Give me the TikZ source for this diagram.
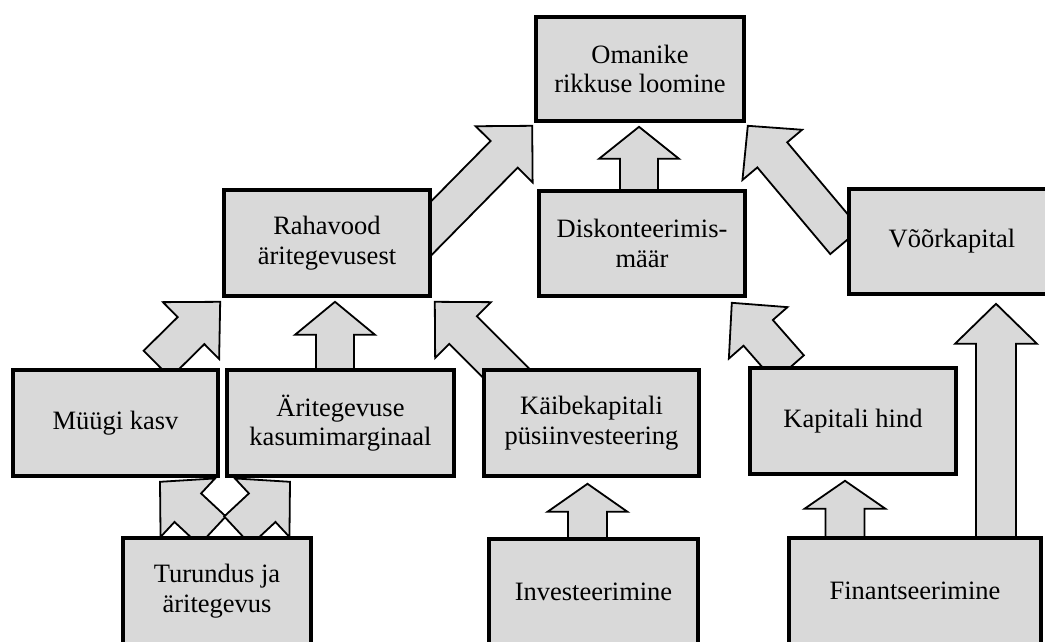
\documentclass[tikz,border=0pt]{standalone}
\usepackage{fontspec}
\setmainfont{Liberation Serif}
\usetikzlibrary{calc}
\definecolor{boxgray}{RGB}{217,217,217}
\pgfdeclarelayer{back}
\pgfsetlayers{back,main}
\tikzset{
  box/.style={draw=black, line width=3.6pt, fill=boxgray, align=center,
    inner sep=0pt, text=black, font=\fontsize{26.5}{29.5}\selectfont},
  arr/.style={draw=black, line width=1.8pt, fill=boxgray, line join=miter},
}
% block arrow: #1 tail, #2 tip, #3 shaft half width, #4 head half width, #5 head length (pt)
\newcommand\blockarrow[5]{%
  \path (#1) coordinate (ba-t) (#2) coordinate (ba-p);
  \path ($(ba-p)!#5pt!(ba-t)$) coordinate (ba-n);
  \draw[arr] ($(ba-t)!#3pt!90:(ba-p)$) -- ($(ba-n)!#3pt!90:(ba-p)$)
    -- ($(ba-n)!#4pt!90:(ba-p)$) -- (ba-p) -- ($(ba-n)!#4pt!-90:(ba-p)$)
    -- ($(ba-n)!#3pt!-90:(ba-p)$) -- ($(ba-t)!#3pt!-90:(ba-p)$) -- cycle;
}
\begin{document}
\begin{tikzpicture}[x=1pt,y=-1pt]
\useasboundingbox (0,0) rectangle (1045,641);

% value drivers
\node[box, minimum width=208pt, minimum height=104pt] (own) at (640,69) {Omanike\\rikkuse loomine};
\node[box, minimum width=206pt, minimum height=106pt] (cash) at (327,243) {Rahavood\\äritegevusest};
\node[box, minimum width=206pt, minimum height=105pt] (disc) at (642,243.5) {Diskonteerimis-\\määr};
\node[box, minimum width=206pt, minimum height=105pt] (debt) at (952,241.5) {Võõrkapital};
\node[box, minimum width=205pt, minimum height=106pt] (sales) at (115.5,423) {Müügi kasv};
\node[box, minimum width=227pt, minimum height=106pt] (margin) at (340.5,423) {Äritegevuse\\kasumimarginaal};
\node[box, minimum width=215pt, minimum height=106pt] (wcap) at (591.5,423) {Käibekapitali\\püsiinvesteering};
\node[box, minimum width=206pt, minimum height=106pt] (cost) at (853,421) {Kapitali hind};
\node[box, minimum width=188pt, minimum height=106pt] (mkt) at (217,591) {Turundus ja\\äritegevus};
\node[box, minimum width=209pt, minimum height=106pt] (inv) at (593.5,592) {Investeerimine};
\node[box, minimum width=252pt, minimum height=106pt] (fin) at (915,591) {Finantseerimine};

\begin{pgfonlayer}{back}
  \fill[white] (0,0) rectangle (1045,641);
  % into the cash flow box
  \blockarrow{$(sales.north)+(41.5,-4)$}{$(cash.south west)+(-2,4)$}{19}{40}{41}
  \blockarrow{$(margin.north)+(-5.5,20)$}{$(cash.south)+(8,4)$}{19}{40}{33}
  \blockarrow{$(wcap.north west)+(38,19)$}{$(cash.south east)+(3,4)$}{19.5}{39.5}{40}
  % into the owner wealth box
  \blockarrow{$(cash.east)+(-20,5)$}{$(own.south west)+(-2,3)$}{19}{40}{40}
  \blockarrow{$(disc.north)+(-3,20)$}{$(own.south)+(-1,4)$}{19}{40}{32}
  \blockarrow{$(debt.west)+(-2,0)$}{$(own.south east)+(2,3)$}{19.5}{39}{38}
  % cost of capital and financing
  \blockarrow{$(cost.north west)+(41,2)$}{$(disc.south east)+(-15,5)$}{19.5}{39}{40}
  \blockarrow{$(fin.north)+(-70,22)$}{$(cost.south)+(-8,5)$}{19.5}{40.5}{28}
  \blockarrow{$(fin.north)+(81,22)$}{$(debt.south)+(44,8)$}{20}{41}{40}
  % investment
  \blockarrow{$(inv.north)+(-6,20)$}{$(wcap.south)+(-4,6)$}{19.5}{40}{28}
  % marketing and operations feed both growth and margin
  \blockarrow{$(mkt.north)+(-4.5,-5.5)$}{$(sales.south)+(44.5,4)$}{19.5}{40}{38}
  \blockarrow{$(mkt.north)+(20.5,-5.5)$}{$(margin.south)+(-50.5,4)$}{19.5}{40}{38}
\end{pgfonlayer}
\end{tikzpicture}
\end{document}
